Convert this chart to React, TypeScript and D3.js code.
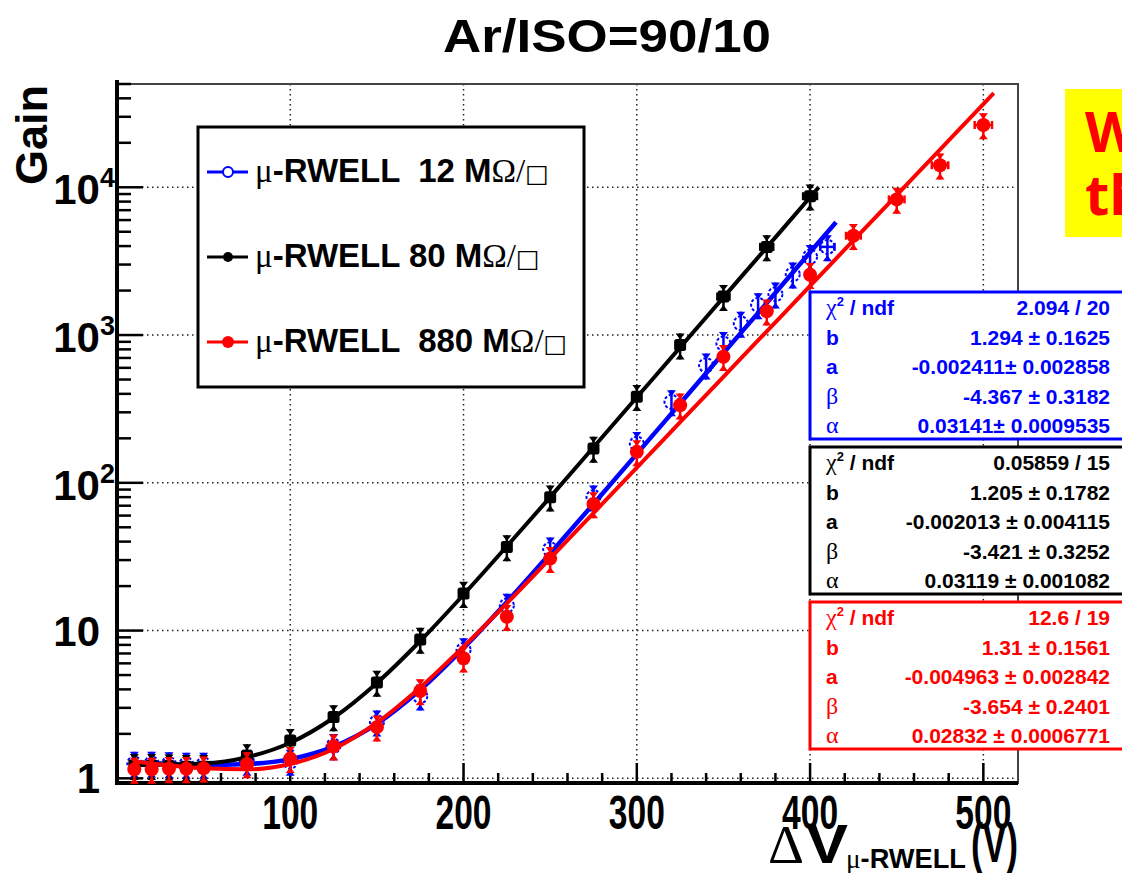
import React from 'react';
import * as d3 from 'd3';

const W = 1122;
const H = 873;
const FONT = "'Liberation Sans', Arial, Helvetica, sans-serif";
const SERIF = "'Liberation Serif', 'Times New Roman', serif";

// axis ranges
const xDomain = [0, 520];
const yDomain = [0.93, 5e4];
const xMajorTicks = [100, 200, 300, 400, 500];
const xMinorStep = 20;
const yMajorTicks = [1, 10, 100, 1000, 10000];
const yTickLabels = [
  { v: 1, base: '1', exp: '' },
  { v: 10, base: '10', exp: '' },
  { v: 100, base: '10', exp: '2' },
  { v: 1000, base: '10', exp: '3' },
  { v: 10000, base: '10', exp: '4' },
];

// measured gain vs voltage
const blueV = [10, 20, 30, 40, 50, 75, 100, 125, 150, 175, 200, 225, 250, 275, 300, 320, 340, 350, 360, 370, 380, 390, 400, 410];
const blueGain = [1.26, 1.26, 1.25, 1.24, 1.24, 1.3, 1.3, 1.66, 2.4, 3.6, 7.4, 14.8, 35.5, 80, 184, 353, 625, 875, 1200, 1600, 1890, 2580, 3390, 3950];

const blackV = [10, 20, 30, 40, 50, 75, 100, 125, 150, 175, 200, 225, 250, 275, 300, 325, 350, 375, 400];
const blackGain = [1.22, 1.22, 1.21, 1.2, 1.2, 1.42, 1.8, 2.6, 4.45, 8.7, 17.8, 36.8, 80, 171, 382, 855, 1820, 3950, 8700];

const redV = [10, 20, 30, 40, 50, 75, 100, 125, 150, 175, 200, 225, 250, 275, 300, 325, 350, 375, 400, 425, 450, 475, 500];
const redGain = [1.15, 1.15, 1.16, 1.16, 1.17, 1.25, 1.36, 1.65, 2.22, 3.9, 6.5, 12.4, 30.7, 72, 162, 335, 713, 1450, 2560, 4700, 8280, 14100, 26400];

// relative errors
const relErrY = 0.2;
const relErrX = 0.01;

// fit curves
const blueFitV = [10, 50, 75, 100, 125, 150, 175, 200, 225, 250, 275, 300, 325, 350, 375, 400, 415];
const blueFitGain = [1.29, 1.23, 1.25, 1.35, 1.64, 2.34, 3.97, 7.6, 15.6, 33.3, 72, 157, 344, 755, 1650, 3630, 5800];
const blackFitV = [10, 50, 75, 100, 125, 150, 175, 200, 225, 250, 275, 300, 325, 350, 375, 400, 405];
const blackFitGain = [1.23, 1.26, 1.39, 1.74, 2.57, 4.42, 8.5, 17.5, 37.2, 80, 174, 379, 825, 1800, 3920, 8560, 10000];
const redFitV = [10, 50, 75, 100, 125, 150, 175, 200, 225, 250, 275, 300, 325, 350, 375, 400, 425, 450, 475, 500, 506];
const redFitGain = [1.3, 1.17, 1.15, 1.25, 1.58, 2.38, 4.12, 7.8, 15.3, 30.8, 62.4, 126.5, 257, 522, 1060, 2150, 4370, 8860, 18000, 36500, 43300];

// legend + fit boxes
const legendValues = ['  12', ' 80', '  880'];
const blueStats = ['2.094 / 20', '1.294 \u00b1 0.1625', '-0.002411\u00b1 0.002858', '-4.367 \u00b1 0.3182', '0.03141\u00b1 0.0009535'];
const blackStats = ['0.05859 / 15', '1.205 \u00b1 0.1782', '-0.002013 \u00b1 0.004115', '-3.421 \u00b1 0.3252', '0.03119 \u00b1 0.001082'];
const redStats = ['12.6 / 19', '1.31 \u00b1 0.1561', '-0.004963 \u00b1 0.002842', '-3.654 \u00b1 0.2401', '0.02832 \u00b1 0.0006771'];

const BLUE = '#0000ff';
const RED = '#ff0000';
const BLACK = '#000000';

const x = d3.scaleLinear().domain(xDomain).range([117, 1018]);
const y = d3.scaleLog().domain(yDomain).range([783, 84]);

const fitLine = d3
  .line<[number, number]>()
  .x(d => x(d[0]))
  .y(d => y(d[1]))
  .curve(d3.curveMonotoneX);

function Marker({ cx, cy, color, kind, r }) {
  if (kind === 'open')
    return <circle cx={cx} cy={cy} r={r} fill="none" stroke={color} strokeWidth={2} strokeDasharray="3 2" />;
  if (kind === 'square')
    return <rect x={cx - r} y={cy - r} width={2 * r} height={2 * r} rx={2.5} fill={color} />;
  return <circle cx={cx} cy={cy} r={r} fill={color} />;
}

function Series({ vs, gs, color, kind, r }) {
  return (
    <g>
      {vs.map((v, i) => {
        const cx = x(v);
        const cy = y(gs[i]);
        const yt = y(gs[i] * (1 + relErrY));
        const yb = y(gs[i] * (1 - relErrY));
        const xl = x(v * (1 - relErrX));
        const xr = x(v * (1 + relErrX));
        return (
          <g key={i}>
            <line x1={cx} x2={cx} y1={yt} y2={yb} stroke={color} strokeWidth={2.5} />
            <polygon points={`${cx - 4.5},${yt} ${cx + 4.5},${yt} ${cx},${yt + 6}`} fill={color} />
            <polygon points={`${cx - 4.5},${yb} ${cx + 4.5},${yb} ${cx},${yb - 6}`} fill={color} />
            {xr - xl > 2 * r && (
              <g>
                <line x1={xl} x2={xr} y1={cy} y2={cy} stroke={color} strokeWidth={2.5} />
                <line x1={xl} x2={xl} y1={cy - 4} y2={cy + 4} stroke={color} strokeWidth={2.5} />
                <line x1={xr} x2={xr} y1={cy - 4} y2={cy + 4} stroke={color} strokeWidth={2.5} />
              </g>
            )}
            <Marker cx={cx} cy={cy} color={color} kind={kind} r={r} />
          </g>
        );
      })}
    </g>
  );
}

function StatsBox({ top, color, values }) {
  const rowY = i => top + 23 + i * 29.5;
  const fs = 21;
  return (
    <g fill={color} fontFamily={FONT} fontWeight="bold" fontSize={fs}>
      <rect x={810} y={top} width={330} height={147} fill="white" stroke={color} strokeWidth={3} />
      <text x={826} y={rowY(0)}>
        <tspan fontFamily={SERIF} fontWeight="normal" fontSize={24}>{'\u03c7'}</tspan>
        <tspan fontSize={13} dy={-9}>2</tspan>
        <tspan dy={9}>{' / ndf'}</tspan>
      </text>
      <text x={826} y={rowY(1)}>b</text>
      <text x={826} y={rowY(2)}>a</text>
      <text x={826} y={rowY(3)} fontFamily={SERIF} fontWeight="normal" fontSize={24}>{'\u03b2'}</text>
      <text x={826} y={rowY(4)} fontFamily={SERIF} fontWeight="normal" fontSize={24}>{'\u03b1'}</text>
      {values.map((t, i) => (
        <text key={i} x={1110} y={rowY(i)} textAnchor="end" style={{ whiteSpace: 'pre' }}>
          {t}
        </text>
      ))}
    </g>
  );
}

export default function App() {
  const yMinor: number[] = [];
  yMajorTicks.forEach(d => {
    for (let k = 2; k <= 9; k++) {
      if (k * d <= yDomain[1]) yMinor.push(k * d);
    }
  });
  const xMinor = d3.range(xMinorStep, xDomain[1], xMinorStep).filter(v => v % 100 !== 0);

  const legendRows = [
    { color: BLUE, kind: 'legendOpen', r: 5 },
    { color: BLACK, kind: 'dot', r: 5 },
    { color: RED, kind: 'dot', r: 6 },
  ];

  return (
    <svg
      width={W}
      height={H}
      style={{ position: 'absolute', left: 0, top: 0, background: 'white' }}
      fontFamily={FONT}
    >
      <rect width={W} height={H} fill="white" />

      {/* title */}
      <text x={443} y={52} fontSize={47} fontWeight="bold" textLength={328} lengthAdjust="spacingAndGlyphs">
        Ar/ISO=90/10
      </text>

      {/* grid */}
      <g stroke="#222" strokeWidth={1.5} strokeDasharray="1.5 3.5">
        {xMajorTicks.map(v => (
          <line key={v} x1={x(v)} x2={x(v)} y1={84} y2={783} />
        ))}
        {yMajorTicks.map(v => (
          <line key={v} x1={117} x2={1018} y1={y(v)} y2={y(v)} />
        ))}
      </g>

      {/* frame */}
      <rect x={117} y={84} width={901} height={699} fill="none" stroke="#444" strokeWidth={2} />

      {/* y ticks */}
      <g stroke="black" strokeWidth={2.5}>
        {yMajorTicks.map(v => (
          <line key={v} x1={117} x2={143} y1={y(v)} y2={y(v)} />
        ))}
        {yMinor.map(v => (
          <line key={v} x1={117} x2={131} y1={y(v)} y2={y(v)} />
        ))}
      </g>
      {/* x ticks */}
      <g stroke="black" strokeWidth={2.5}>
        {xMajorTicks.map(v => (
          <line key={v} x1={x(v)} x2={x(v)} y1={783} y2={763} />
        ))}
        {xMinor.map(v => (
          <line key={v} x1={x(v)} x2={x(v)} y1={783} y2={773} />
        ))}
      </g>
      <line x1={117} x2={117} y1={80} y2={785} stroke="black" strokeWidth={4} />
      <line x1={115} x2={1018} y1={783} y2={783} stroke="black" strokeWidth={4} />

      {/* y labels */}
      <g fontWeight="bold" fontSize={42}>
        {yTickLabels.map(t =>
          t.exp ? (
            <text key={t.v} x={115} y={y(t.v) + 17} textAnchor="end">
              {t.base}
              <tspan fontSize={27} dy={-17}>{t.exp}</tspan>
            </text>
          ) : (
            <text key={t.v} x={100} y={y(t.v) + 15} textAnchor="end">
              {t.base}
            </text>
          ),
        )}
      </g>
      {/* x labels */}
      <g fontWeight="bold" fontSize={48}>
        {xMajorTicks.map(v => (
          <text key={v} x={x(v)} y={829} textAnchor="middle" textLength={56} lengthAdjust="spacingAndGlyphs">
            {v}
          </text>
        ))}
      </g>

      {/* axis titles */}
      <text transform="translate(47,85) rotate(-90)" textAnchor="end" fontWeight="bold" fontSize={45}>
        Gain
      </text>
      <text x={768} y={863} fontSize={55} fontFamily={SERIF} textLength={36} lengthAdjust="spacingAndGlyphs">
        {'\u0394'}
      </text>
      <text x={806} y={863} fontSize={56} fontWeight="bold" textLength={42} lengthAdjust="spacingAndGlyphs">
        V
      </text>
      <text x={846} y={868} fontSize={28} fontWeight="bold" textLength={120} lengthAdjust="spacingAndGlyphs">
        <tspan fontFamily={SERIF} fontWeight="normal">{'\u03bc'}</tspan>-RWELL
      </text>
      <text x={971} y={862} fontSize={55} fontWeight="bold" textLength={47} lengthAdjust="spacingAndGlyphs">
        (V)
      </text>

      {/* data + fits */}
      <path d={fitLine(blueFitV.map((v, i) => [v, blueFitGain[i]]))} fill="none" stroke={BLUE} strokeWidth={4.5} />
      <Series vs={blueV} gs={blueGain} color={BLUE} kind="open" r={7} />
      <path d={fitLine(blackFitV.map((v, i) => [v, blackFitGain[i]]))} fill="none" stroke={BLACK} strokeWidth={4} />
      <Series vs={blackV} gs={blackGain} color={BLACK} kind="square" r={6} />
      <path d={fitLine(redFitV.map((v, i) => [v, redFitGain[i]]))} fill="none" stroke={RED} strokeWidth={4} />
      <Series vs={redV} gs={redGain} color={RED} kind="dot" r={7} />

      {/* legend */}
      <rect x={198} y={127} width={386} height={260} fill="white" stroke="black" strokeWidth={3} />
      {legendRows.map((row, i) => {
        const base = 182 + i * 85;
        const my = base - 10;
        return (
          <g key={i}>
            <line x1={207} x2={248} y1={my} y2={my} stroke={row.color} strokeWidth={3} />
            {row.kind === 'legendOpen' ? (
              <circle cx={228} cy={my} r={row.r} fill="white" stroke={row.color} strokeWidth={2} />
            ) : (
              <circle cx={228} cy={my} r={row.r} fill={row.color} />
            )}
            <text x={255} y={base} fontSize={33} fontWeight="bold" style={{ whiteSpace: 'pre' }}>
              <tspan fontFamily={SERIF} fontWeight="normal">{'\u03bc'}</tspan>
              <tspan>{'-RWELL' + legendValues[i] + ' M'}</tspan>
              <tspan fontFamily={SERIF} fontWeight="normal">{'\u03a9/'}</tspan>
              <tspan fontFamily="'DejaVu Sans'" fontWeight="normal" fontSize={25}>{'\u25a1'}</tspan>
            </text>
          </g>
        );
      })}

      {/* fit parameter boxes */}
      <StatsBox top={292} color={BLUE} values={blueStats} />
      <StatsBox top={447} color={BLACK} values={blackStats} />
      <StatsBox top={602} color={RED} values={redStats} />

      {/* note box at the edge */}
      <rect x={1065} y={89} width={80} height={148} fill="#ffff00" />
      <g fill={RED} fontFamily="'Open Sans', 'Noto Sans', sans-serif" fontWeight="bold" fontSize={56}>
        <text x={1085} y={152}>W</text>
        <text x={1085} y={215}>th</text>
      </g>
    </svg>
  );
}
